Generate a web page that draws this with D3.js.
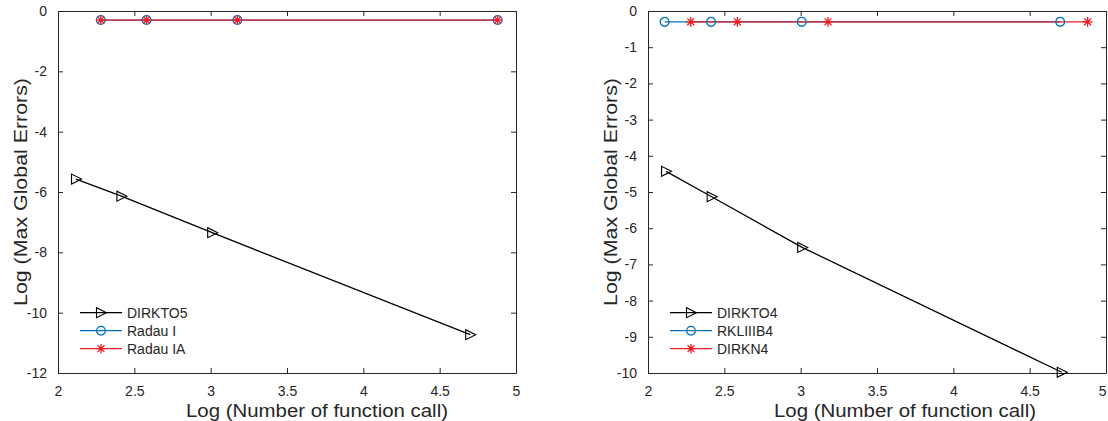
<!DOCTYPE html>
<html>
<head>
<meta charset="utf-8">
<script src="https://cdn.jsdelivr.net/npm/d3@7/dist/d3.min.js"></script>
<style>
  html, body { margin: 0; padding: 0; background: #fff; }
  svg { display: block; }
  text { font-family: "Liberation Sans", Arial, Helvetica, sans-serif; fill: #262626; }
</style>
</head>
<body>
<svg id="chart" width="1108" height="421"></svg>
<script>
// ---- data: log10 of function calls vs log10 of max global error ----
const xTicks = [2, 2.5, 3, 3.5, 4, 4.5, 5];
const yTicksLeft = [0, -2, -4, -6, -8, -10, -12];
const yTicksRight = [0, -1, -2, -3, -4, -5, -6, -7, -8, -9, -10];

// left panel
const dirkto5X = [2.118, 2.415, 3.01, 4.70];
const dirkto5Y = [-5.57, -6.14, -7.35, -10.73];
const radauIX = [2.28, 2.58, 3.175, 4.88];
const radauIY = [-0.30, -0.30, -0.30, -0.30];
const radauIAX = [2.28, 2.58, 3.175, 4.88];
const radauIAY = [-0.30, -0.30, -0.30, -0.30];

// right panel
const dirkto4X = [2.118, 2.417, 3.01, 4.71];
const dirkto4Y = [-4.43, -5.13, -6.53, -9.98];
const rkliiib4X = [2.109, 2.413, 3.007, 4.70];
const rkliiib4Y = [-0.30, -0.30, -0.30, -0.30];
const dirkn4X = [2.28, 2.585, 3.179, 4.88];
const dirkn4Y = [-0.30, -0.30, -0.30, -0.30];

const xLabel = "Log (Number of function call)";
const yLabel = "Log (Max Global Errors)";

// ---- styling ----
const COLORS = { black: "#000000", blue: "#0072BD", red: "#EE1C25" };
const AXIS_COLOR = "#262626";

const svg = d3.select("#chart");

function zip(xs, ys) { return xs.map((x, i) => ({ x, y: ys[i] })); }

// marker painters: each draws a symbol centred at the origin
function drawMarker(g, kind, color) {
  if (kind === "triangle") {
    g.append("path")
      .attr("d", "M-4.5,-5 L-4.5,5 L5.5,0 Z")
      .attr("fill", "none").attr("stroke", color).attr("stroke-width", 1.1);
  } else if (kind === "circle") {
    g.append("circle").attr("r", 4.4)
      .attr("fill", "none").attr("stroke", color).attr("stroke-width", 1.3);
  } else if (kind === "star") {
    const r = 4.8, d = r * 0.72;
    g.append("path")
      .attr("d", `M0,${-r} L0,${r} M${-r},0 L${r},0 M${-d},${-d} L${d},${d} M${-d},${d} L${d},${-d}`)
      .attr("fill", "none").attr("stroke", color).attr("stroke-width", 1.3);
  }
}

function drawPanel(cfg) {
  const { left, top, width, height, yDomain, yTicks, series, labelShift } = cfg;
  const g = svg.append("g").attr("transform", `translate(${left},${top})`);

  const x = d3.scaleLinear().domain([2, 5]).range([0, width]);
  const y = d3.scaleLinear().domain(yDomain).range([height, 0]);

  const fmt = d => String(d);

  // axes with inward ticks on all four sides
  const axisStyle = sel => {
    sel.selectAll("path.domain").attr("stroke", AXIS_COLOR).attr("stroke-width", 1);
    sel.selectAll(".tick line").attr("stroke", AXIS_COLOR).attr("stroke-width", 1);
    sel.selectAll(".tick text").attr("font-size", 14).attr("fill", AXIS_COLOR)
      .style("font-family", '"Liberation Sans", Arial, sans-serif');
  };

  const bottom = g.append("g").attr("transform", `translate(0,${height})`)
    .call(d3.axisBottom(x).tickValues(xTicks).tickFormat(fmt).tickSizeInner(-5).tickSizeOuter(0).tickPadding(13))
    .call(axisStyle);
  // keep the last tick label inside the canvas on the right-hand panel
  if (cfg.clampLastTick) {
    bottom.selectAll(".tick text").filter(d => d === xTicks[xTicks.length - 1])
      .attr("text-anchor", "end").attr("x", 0);
  }
  g.append("g")
    .call(d3.axisTop(x).tickValues(xTicks).tickFormat("").tickSizeInner(-5).tickSizeOuter(0))
    .call(axisStyle);
  g.append("g")
    .call(d3.axisLeft(y).tickValues(yTicks).tickFormat(fmt).tickSizeInner(-5).tickSizeOuter(0).tickPadding(11))
    .call(axisStyle);
  g.append("g").attr("transform", `translate(${width},0)`)
    .call(d3.axisRight(y).tickValues(yTicks).tickFormat("").tickSizeInner(-5).tickSizeOuter(0))
    .call(axisStyle);

  // axis titles
  g.append("text")
    .attr("x", width / 2 + labelShift).attr("y", height + 44)
    .attr("text-anchor", "middle").attr("font-size", 17.5)
    .attr("textLength", 262).attr("lengthAdjust", "spacingAndGlyphs")
    .text(xLabel);
  g.append("text")
    .attr("transform", `translate(${-31},${height / 2}) rotate(-90)`)
    .attr("text-anchor", "middle").attr("font-size", 17.5)
    .attr("textLength", 228).attr("lengthAdjust", "spacingAndGlyphs")
    .text(yLabel);

  // series lines then markers
  const line = d3.line().x(d => x(d.x)).y(d => y(d.y));
  series.forEach(s => {
    const pts = zip(s.xs, s.ys);
    g.append("path").datum(pts)
      .attr("d", line).attr("fill", "none")
      .attr("stroke", s.color).attr("stroke-width", 1.3);
  });
  series.forEach(s => {
    const pts = zip(s.xs, s.ys);
    g.selectAll(null).data(pts).enter().append("g")
      .attr("transform", d => `translate(${x(d.x)},${y(d.y)})`)
      .each(function () { drawMarker(d3.select(this), s.marker, s.color); });
  });

  // legend (no box)
  const lg = g.append("g").attr("transform", `translate(22,${height - 60.3})`);
  series.forEach((s, i) => {
    const row = lg.append("g").attr("transform", `translate(0,${i * 18})`);
    row.append("line").attr("x1", 0).attr("x2", 42).attr("y1", 0).attr("y2", 0)
      .attr("stroke", s.color).attr("stroke-width", 1.3);
    const m = row.append("g").attr("transform", "translate(21,0)");
    drawMarker(m, s.marker, s.color);
    row.append("text").attr("x", 47).attr("y", 0).attr("dy", "0.35em")
      .attr("font-size", 14).text(s.name);
  });
}

drawPanel({
  left: 58, top: 11, width: 458, height: 362,
  yDomain: [-12, 0], yTicks: yTicksLeft, labelShift: 30,
  series: [
    { name: "DIRKTO5", xs: dirkto5X, ys: dirkto5Y, color: COLORS.black, marker: "triangle" },
    { name: "Radau I", xs: radauIX, ys: radauIY, color: COLORS.blue, marker: "circle" },
    { name: "Radau IA", xs: radauIAX, ys: radauIAY, color: COLORS.red, marker: "star" }
  ]
});

drawPanel({
  left: 648, top: 11, width: 458, height: 362,
  yDomain: [-10, 0], yTicks: yTicksRight, labelShift: 28, clampLastTick: true,
  series: [
    { name: "DIRKTO4", xs: dirkto4X, ys: dirkto4Y, color: COLORS.black, marker: "triangle" },
    { name: "RKLIIIB4", xs: rkliiib4X, ys: rkliiib4Y, color: COLORS.blue, marker: "circle" },
    { name: "DIRKN4", xs: dirkn4X, ys: dirkn4Y, color: COLORS.red, marker: "star" }
  ]
});
</script>
</body>
</html>
